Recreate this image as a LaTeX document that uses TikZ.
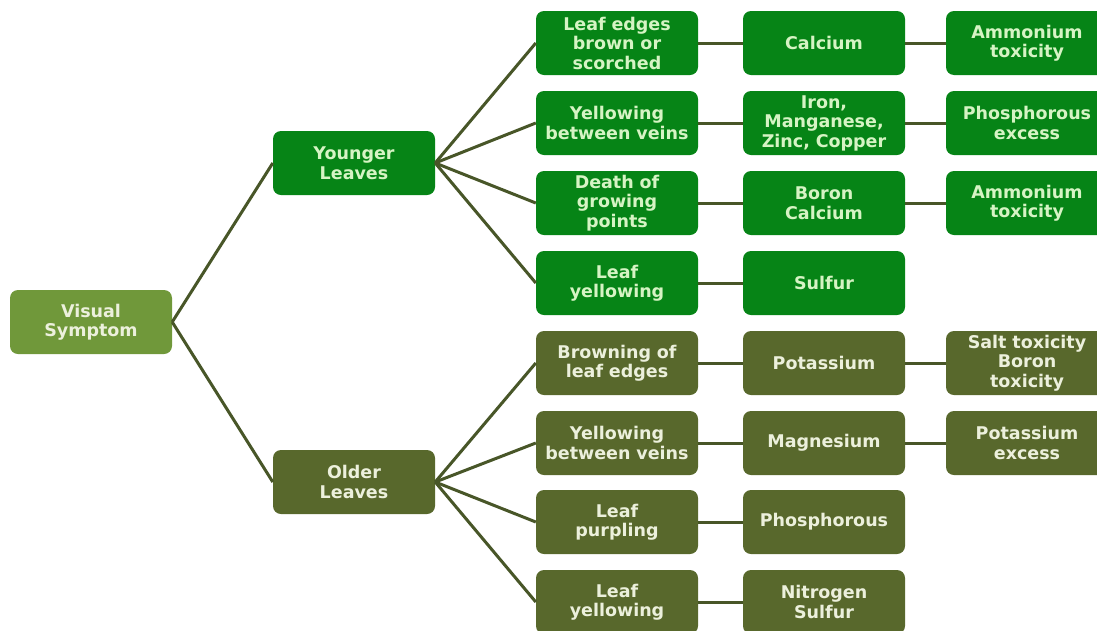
\documentclass[tikz,border=0pt]{standalone}
\usepackage{fontspec}
\setmainfont{DejaVu Sans}
\definecolor{young}{RGB}{6,132,22}
\definecolor{old}{RGB}{88,104,44}
\definecolor{rootc}{RGB}{112,152,58}
\definecolor{linec}{RGB}{72,86,40}
\definecolor{txtyoung}{RGB}{214,244,196}
\definecolor{txtold}{RGB}{236,240,220}
\begin{document}
\begin{tikzpicture}[x=1pt,y=-1pt,
  box/.style={rounded corners=8pt, minimum width=162pt, minimum height=64pt,
    inner sep=0pt, text width=160pt, align=center,
    font=\bfseries\fontsize{17.5}{19.5}\selectfont},
  ybox/.style={box, fill=young, text=txtyoung},
  obox/.style={box, fill=old, text=txtold},
  rbox/.style={box, fill=rootc, text=txtold},
  link/.style={draw=linec, line width=3pt}]
\useasboundingbox (0,0) rectangle (1097,630);
\fill[white] (0,0) rectangle (1097,630);

% root and the two leaf-age branches
\node[rbox] (vs) at (91,322) {Visual\\Symptom};
\node[ybox] (yl) at (354,163) {Younger\\Leaves};
\node[obox] (ol) at (354,482) {Older\\Leaves};

% symptom column
\node[ybox] (s1) at (617,43)  {Leaf edges\\brown or\\scorched};
\node[ybox] (s2) at (617,123) {Yellowing\\between veins};
\node[ybox] (s3) at (617,203) {Death of\\growing\\points};
\node[ybox] (s4) at (617,283) {Leaf\\yellowing};
\node[obox] (s5) at (617,363) {Browning of\\leaf edges};
\node[obox] (s6) at (617,443) {Yellowing\\between veins};
\node[obox] (s7) at (617,522) {Leaf\\purpling};
\node[obox] (s8) at (617,602) {Leaf\\yellowing};

% deficiency column
\node[ybox] (d1) at (824,43)  {Calcium};
\node[ybox] (d2) at (824,123) {Iron,\\Manganese,\\Zinc, Copper};
\node[ybox] (d3) at (824,203) {Boron\\Calcium};
\node[ybox] (d4) at (824,283) {Sulfur};
\node[obox] (d5) at (824,363) {Potassium};
\node[obox] (d6) at (824,443) {Magnesium};
\node[obox] (d7) at (824,522) {Phosphorous};
\node[obox] (d8) at (824,602) {Nitrogen\\Sulfur};

% related cause column
\node[ybox] (c1) at (1027,43)  {Ammonium\\toxicity};
\node[ybox] (c2) at (1027,123) {Phosphorous\\excess};
\node[ybox] (c3) at (1027,203) {Ammonium\\toxicity};
\node[obox] (c5) at (1027,363) {Salt toxicity\\Boron\\toxicity};
\node[obox] (c6) at (1027,443) {Potassium\\excess};

% connectors
\draw[link] (vs.east) -- (yl.west);
\draw[link] (vs.east) -- (ol.west);
\foreach \s in {s1,s2,s3,s4} \draw[link] (yl.east) -- (\s.west);
\foreach \s in {s5,s6,s7,s8} \draw[link] (ol.east) -- (\s.west);
\foreach \i in {1,...,8} \draw[link] (s\i.east) -- (d\i.west);
\foreach \i in {1,2,3,5,6} \draw[link] (d\i.east) -- (c\i.west);
\end{tikzpicture}
\end{document}
